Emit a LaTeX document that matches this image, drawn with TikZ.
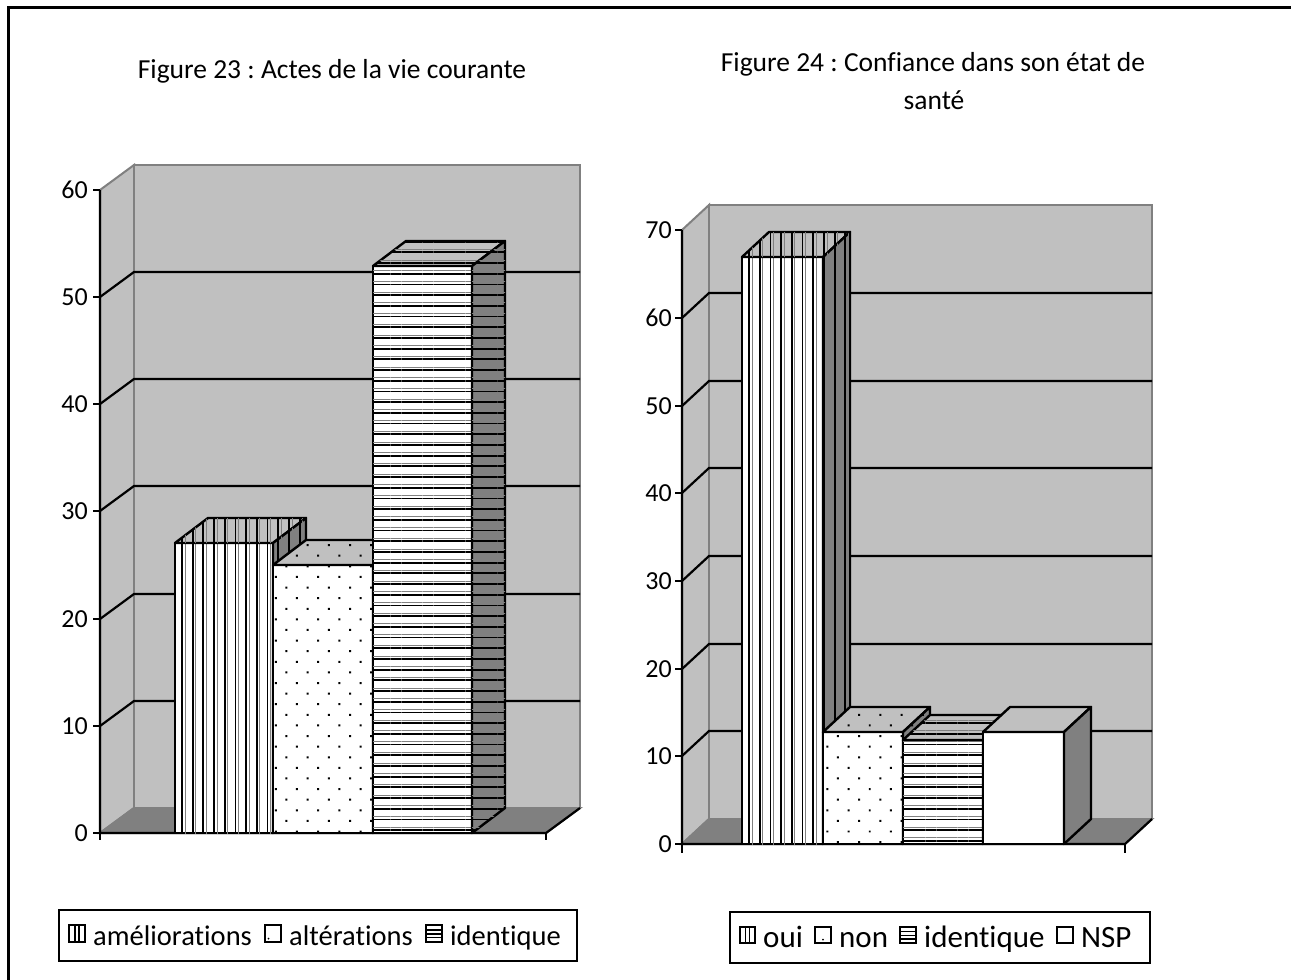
\documentclass[tikz,border=0pt]{standalone}
\usepackage{fontspec}
\setmainfont{Carlito}[Ligatures={NoCommon}]
\usepackage{tikz}
\usetikzlibrary{patterns.meta}
\definecolor{lgray}{HTML}{C0C0C0}
\definecolor{dgray}{HTML}{808080}
\frenchspacing

\begin{document}
\begin{tikzpicture}[x=1pt,y=-1pt,
        lab/.style={font=\fontsize{26}{31}\selectfont, inner sep=0pt},
        ttl/.style={font=\fontsize{27.5}{33}\selectfont, inner sep=0pt},
        leg/.style={font=\fontsize{28.5}{34}\selectfont, inner sep=0pt},
        legb/.style={font=\fontsize{31}{37}\selectfont, inner sep=0pt},
        wall/.style={fill=lgray, draw=dgray, line width=2pt},
        gline/.style={draw=black, line width=2.2pt},
        face/.style={draw=black, line width=2.4pt, line join=round},
        vlines/.style={pattern={Lines[angle=90,distance=10.7pt,line width=1.8pt]},
            postaction={pattern={Lines[angle=90,distance=10.7pt,xshift=3pt,line width=0.8pt]}, pattern color=dgray}},
        hlines/.style={pattern={Lines[angle=0,distance=10.7pt,line width=1.8pt]},
            postaction={pattern={Lines[angle=0,distance=10.7pt,yshift=3pt,line width=0.8pt]}, pattern color=dgray}},
        dotgrid/.style={pattern={Dots[angle=45,distance=15pt,radius=1.4pt]}}]
        % White page and outer frame
        \fill[white] (0,0) rectangle (1291,980);
        \useasboundingbox (0,0) rectangle (1291,980);
        \draw[line width=3pt] (8,980) -- (8,7) -- (1291,7);
        % Titles
        \node[ttl, anchor=base] (fig23) at (332,78) {Figure 23 : Actes de la vie courante};
        \node[ttl, anchor=base] (fig24a) at (933,71) {Figure 24 : Confiance dans son état de};
        \node[ttl, anchor=base] (fig24b) at (934,109) {santé};

        % Figure 23 : walls and floor
        \filldraw[wall] (100,190) -- (134,165) -- (134,808) -- (100,833) -- cycle;
        \filldraw[wall] (134,165) rectangle (580,808);
        \filldraw[fill=dgray, draw=dgray, line width=2pt] (100,833) -- (134,808) -- (580,808) -- (546,833) -- cycle;
        % Figure 23 : grid lines
        \draw[gline] (100,726) -- (134,701) -- (580,701);
        \draw[gline] (100,619) -- (134,594) -- (580,594);
        \draw[gline] (100,511) -- (134,486) -- (580,486);
        \draw[gline] (100,404) -- (134,379) -- (580,379);
        \draw[gline] (100,297) -- (134,272) -- (580,272);
        % Figure 23 : axes and ticks
        \draw[gline] (100,190) -- (100,833) -- (546,833) -- (580,808);
        \draw[gline] (93,190) -- (100,190);
        \draw[gline] (93,297) -- (100,297);
        \draw[gline] (93,404) -- (100,404);
        \draw[gline] (93,511) -- (100,511);
        \draw[gline] (93,619) -- (100,619);
        \draw[gline] (93,726) -- (100,726);
        \draw[gline] (93,833) -- (100,833) -- (100,840);
        \draw[gline] (546,833) -- (546,840);
        \node[lab, anchor=east] (a60) at (88,190) {60};
        \node[lab, anchor=east] (a50) at (88,297) {50};
        \node[lab, anchor=east] (a40) at (88,404) {40};
        \node[lab, anchor=east] (a30) at (88,511) {30};
        \node[lab, anchor=east] (a20) at (88,619) {20};
        \node[lab, anchor=east] (a10) at (88,726) {10};
        \node[lab, anchor=east] (a0) at (88,833) {0};
        % Figure 23 : bars
        \draw[face, preaction={fill=white}, vlines] (175,543) rectangle (273,833);
        \draw[face, preaction={fill=lgray}, vlines] (175,543) -- (208,518) -- (306,518) -- (273,543) -- cycle;
        \draw[face, preaction={fill=dgray}, vlines] (273,543) -- (306,518) -- (306,808) -- (273,833) -- cycle;
        \draw[face, preaction={fill=white}, dotgrid] (273,565) rectangle (373,833);
        \draw[face, preaction={fill=lgray}, dotgrid] (273,565) -- (306,540) -- (406,540) -- (373,565) -- cycle;
        \draw[face, preaction={fill=dgray}, dotgrid] (373,565) -- (406,540) -- (406,808) -- (373,833) -- cycle;
        \draw[face, preaction={fill=white}, hlines] (373,266) rectangle (472,833);
        \draw[face, preaction={fill=lgray}, hlines] (373,266) -- (406,241) -- (505,241) -- (472,266) -- cycle;
        \draw[face, preaction={fill=dgray}, hlines] (472,266) -- (505,241) -- (505,808) -- (472,833) -- cycle;

        % Figure 24 : walls and floor
        \filldraw[wall] (682,230) -- (709,205) -- (709,819) -- (682,844) -- cycle;
        \filldraw[wall] (709,205) rectangle (1152,819);
        \filldraw[fill=dgray, draw=dgray, line width=2pt] (682,844) -- (709,819) -- (1152,819) -- (1125,844) -- cycle;
        % Figure 24 : grid lines
        \draw[gline] (682,756) -- (709,731) -- (1152,731);
        \draw[gline] (682,669) -- (709,644) -- (1152,644);
        \draw[gline] (682,581) -- (709,556) -- (1152,556);
        \draw[gline] (682,493) -- (709,468) -- (1152,468);
        \draw[gline] (682,406) -- (709,381) -- (1152,381);
        \draw[gline] (682,318) -- (709,293) -- (1152,293);
        % Figure 24 : axes and ticks
        \draw[gline] (682,230) -- (682,844) -- (1125,844) -- (1152,819);
        \draw[gline] (675,230) -- (682,230);
        \draw[gline] (675,318) -- (682,318);
        \draw[gline] (675,406) -- (682,406);
        \draw[gline] (675,493) -- (682,493);
        \draw[gline] (675,581) -- (682,581);
        \draw[gline] (675,669) -- (682,669);
        \draw[gline] (675,756) -- (682,756);
        \draw[gline] (675,844) -- (682,844) -- (682,853);
        \draw[gline] (1125,844) -- (1125,853);
        \node[lab, anchor=east] (b70) at (672,230) {70};
        \node[lab, anchor=east] (b60) at (672,318) {60};
        \node[lab, anchor=east] (b50) at (672,406) {50};
        \node[lab, anchor=east] (b40) at (672,493) {40};
        \node[lab, anchor=east] (b30) at (672,581) {30};
        \node[lab, anchor=east] (b20) at (672,669) {20};
        \node[lab, anchor=east] (b10) at (672,756) {10};
        \node[lab, anchor=east] (b0) at (672,844) {0};
        % Figure 24 : bars
        \draw[face, preaction={fill=white}, vlines] (742,257) rectangle (823,844);
        \draw[face, preaction={fill=lgray}, vlines] (742,257) -- (769,232) -- (850,232) -- (823,257) -- cycle;
        \draw[face, preaction={fill=dgray}, vlines] (823,257) -- (850,232) -- (850,819) -- (823,844) -- cycle;
        \draw[face, preaction={fill=white}, dotgrid] (823,732) rectangle (903,844);
        \draw[face, preaction={fill=lgray}, dotgrid] (823,732) -- (850,707) -- (930,707) -- (903,732) -- cycle;
        \draw[face, preaction={fill=dgray}, dotgrid] (903,732) -- (930,707) -- (930,819) -- (903,844) -- cycle;
        \draw[face, preaction={fill=white}, hlines] (903,740) rectangle (983,844);
        \draw[face, preaction={fill=lgray}, hlines] (903,740) -- (930,715) -- (1010,715) -- (983,740) -- cycle;
        \draw[face, preaction={fill=dgray}, hlines] (983,740) -- (1010,715) -- (1010,819) -- (983,844) -- cycle;
        \draw[face, fill=white] (983,732) rectangle (1064,844);
        \draw[face, fill=lgray] (983,732) -- (1010,707) -- (1091,707) -- (1064,732) -- cycle;
        \draw[face, fill=dgray] (1064,732) -- (1091,707) -- (1091,819) -- (1064,844) -- cycle;

        % Legend of figure 23
        \draw[line width=2pt] (59,910) rectangle (577,961);
        \draw[line width=2pt] (69,925) rectangle (85,942);
        \draw[line width=1.6pt] (75,925) -- (75,942) (79,925) -- (79,942);
        \node[leg, anchor=base west] (kame) at (93,945) {améliorations};
        \draw[line width=2pt] (265,925) rectangle (281,942);
        \fill (268.5,938.5) circle (1pt);
        \node[leg, anchor=base west] (kalt) at (289,945) {altérations};
        \draw[line width=2pt] (426,925) rectangle (442,942);
        \draw[line width=1.6pt] (426,930) -- (442,930) (426,934) -- (442,934) (426,937.5) -- (442,937.5);
        \node[leg, anchor=base west] (kid) at (450,945) {identique};
        % Legend of figure 24
        \draw[line width=2pt] (730,912) rectangle (1150,963);
        \draw[line width=2pt] (740,927) rectangle (755,943);
        \draw[line width=1.6pt] (745.5,927) -- (745.5,943) (749.5,927) -- (749.5,943);
        \node[legb, anchor=base west] (koui) at (763,947) {oui};
        \draw[line width=2pt] (815,927) rectangle (831,943);
        \fill (823,939.5) circle (1pt);
        \node[legb, anchor=base west] (knon) at (839,947) {non};
        \draw[line width=2pt] (900,927) rectangle (916,943);
        \draw[line width=1.6pt] (900,931.5) -- (916,931.5) (900,935.5) -- (916,935.5) (900,939) -- (916,939);
        \node[legb, anchor=base west] (kid2) at (924,947) {identique};
        \draw[line width=2pt] (1057,927) rectangle (1073,943);
        \node[legb, anchor=base west] (knsp) at (1081,947) {NSP};
\end{tikzpicture}
\end{document}
